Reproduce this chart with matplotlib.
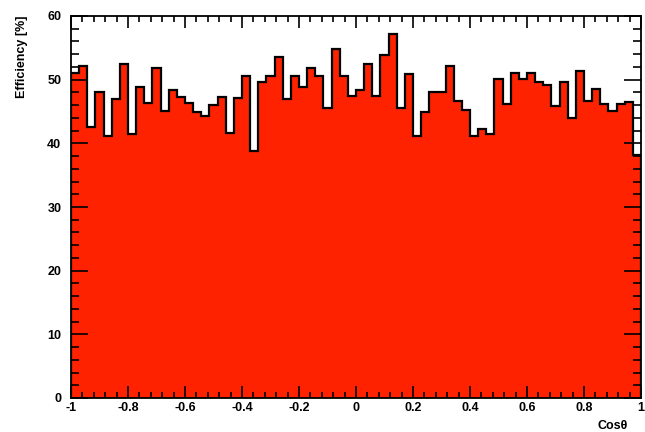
import numpy as np
import matplotlib
matplotlib.use("Agg")
import matplotlib.pyplot as plt
from matplotlib.ticker import MultipleLocator

# efficiency per cos(theta) bin, 70 bins over [-1, 1]
eff = [51.0, 52.2, 42.6, 48.0, 41.2, 47.0, 52.4, 41.4, 48.8, 46.4,
       51.8, 45.1, 48.4, 47.3, 46.3, 45.0, 44.3, 46.0, 47.2, 41.7,
       47.1, 50.6, 38.8, 49.7, 50.6, 53.6, 47.0, 50.6, 48.9, 51.8,
       50.6, 45.6, 54.8, 50.6, 47.5, 48.3, 52.5, 47.5, 53.8, 57.2,
       45.6, 50.9, 41.2, 45.0, 48.0, 48.0, 52.2, 46.6, 45.3, 41.2,
       42.2, 41.4, 50.1, 46.2, 51.0, 50.1, 51.0, 49.6, 49.1, 45.8,
       49.6, 44.0, 51.4, 46.7, 48.6, 46.1, 45.1, 46.1, 46.5, 38.2]
xticks = [-1, -0.8, -0.6, -0.4, -0.2, 0, 0.2, 0.4, 0.6, 0.8, 1]
xtick_labels = ["-1", "-0.8", "-0.6", "-0.4", "-0.2", "0", "0.2", "0.4", "0.6", "0.8", "1"]
yticks = [0, 10, 20, 30, 40, 50, 60]

plt.rcParams['font.family'] = ['Liberation Sans', 'DejaVu Sans']
plt.rcParams['axes.unicode_minus'] = False

fig = plt.figure(figsize=(6.45, 4.32), dpi=100)
ax = fig.add_axes([71/645, 1 - 398/432, 570/645, 382/432])

edges = np.linspace(-1, 1, len(eff) + 1)
ax.stairs(eff, edges, fill=True, color="#ff2200", zorder=1)
ax.stairs(eff, edges, color="black", linewidth=1.6, zorder=2)

ax.set_xlim(-1, 1)
ax.set_ylim(0, 60)
ax.set_xticks(xticks)
ax.set_xticklabels(xtick_labels)
ax.set_yticks(yticks)
ax.xaxis.set_minor_locator(MultipleLocator(0.04))
ax.yaxis.set_minor_locator(MultipleLocator(2))

for s in ax.spines.values():
    s.set_linewidth(1.3)
    s.set_zorder(3)

ax.tick_params(axis="x", which="both", direction="in", top=True, bottom=True,
               width=1.2, labelsize=9, pad=3)
ax.tick_params(axis="x", which="major", length=8.5)
ax.tick_params(axis="x", which="minor", length=4.3)
ax.tick_params(axis="y", which="both", direction="in", left=True, right=True,
               width=1.2, labelsize=9, pad=7)
ax.tick_params(axis="y", which="major", length=12)
ax.tick_params(axis="y", which="minor", length=6)
for lab in ax.get_xticklabels() + ax.get_yticklabels():
    lab.set_fontweight("bold")

fig.text(628/645, 1 - 426/432, "Cos\u03b8", ha="right", va="center",
         fontsize=9, fontweight="bold")
fig.text(22/645, 1 - 16/432, "Efficiency [%]", rotation=90, ha="center",
         va="top", fontsize=9, fontweight="bold")

fig.savefig("out.png", dpi=100)
